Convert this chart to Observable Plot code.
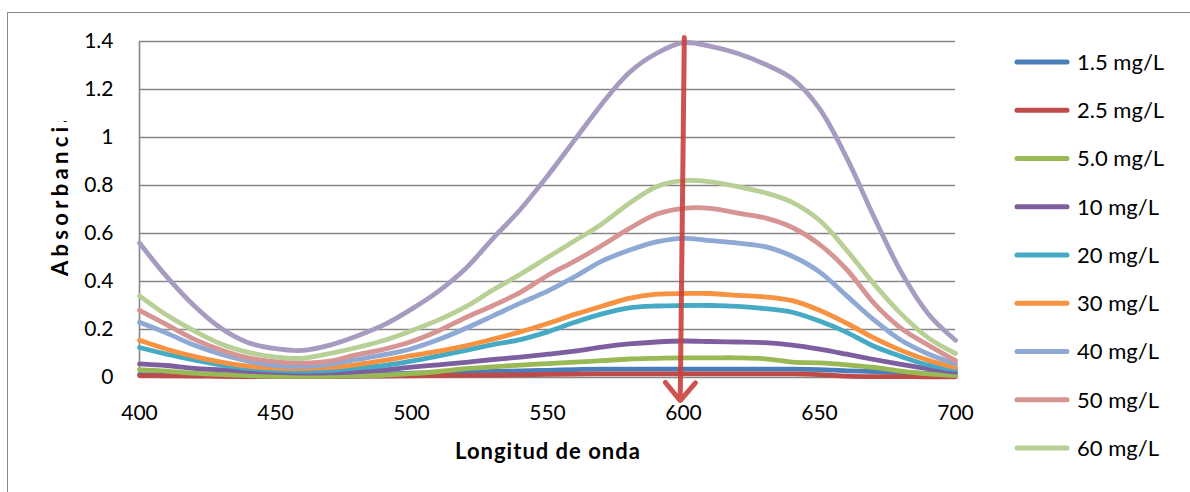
<!DOCTYPE html>
<html><head><meta charset="utf-8">
<script src="https://cdn.jsdelivr.net/npm/d3@7"></script>
<script src="https://cdn.jsdelivr.net/npm/@observablehq/plot@0.6"></script>
<style>
html,body{margin:0;padding:0;background:#fff;}
#wrap{position:relative;width:1190px;height:492px;overflow:hidden;font-family:Lato,sans-serif;}
#frame{position:absolute;left:7px;top:12px;width:1300px;height:600px;border:1.5px solid #8a8a8a;box-sizing:border-box;}
#chart{position:absolute;left:0;top:0;}
#legend{position:absolute;left:0;top:0;}
</style></head><body>
<div id="wrap"><div id="frame"></div><div id="chart"></div><svg id="legend" width="1190" height="492"></svg></div>
<script>
// ---- data ----
const wavelengths = [400,410,420,430,440,450,460,470,480,490,500,510,520,530,540,550,560,570,580,590,600,610,620,630,640,650,660,670,680,690,700];
const s1_5 = [0.012,0.012,0.01,0.01,0.008,0.008,0.008,0.01,0.012,0.015,0.018,0.02,0.022,0.025,0.028,0.03,0.033,0.035,0.035,0.035,0.035,0.035,0.035,0.035,0.035,0.033,0.028,0.025,0.02,0.017,0.015];
const s2_5 = [0.008,0.007,0.006,0.005,0.004,0.004,0.004,0.004,0.005,0.006,0.007,0.008,0.009,0.01,0.011,0.013,0.014,0.015,0.015,0.015,0.015,0.015,0.015,0.015,0.015,0.012,0.006,0.004,0.004,0.003,0.003];
const s5_0 = [0.033,0.027,0.018,0.013,0.008,0.005,0.005,0.005,0.007,0.01,0.016,0.025,0.037,0.044,0.052,0.058,0.064,0.07,0.077,0.08,0.082,0.082,0.082,0.078,0.064,0.061,0.053,0.042,0.027,0.015,0.008];
const s10 = [0.057,0.05,0.038,0.032,0.026,0.021,0.018,0.019,0.024,0.032,0.043,0.053,0.063,0.075,0.085,0.097,0.11,0.127,0.14,0.148,0.152,0.15,0.148,0.145,0.135,0.118,0.097,0.075,0.055,0.037,0.022];
const s20 = [0.125,0.097,0.073,0.052,0.038,0.03,0.027,0.03,0.04,0.05,0.068,0.09,0.113,0.137,0.158,0.19,0.23,0.265,0.29,0.298,0.3,0.3,0.296,0.287,0.272,0.235,0.188,0.13,0.088,0.052,0.033];
const s30 = [0.155,0.118,0.088,0.064,0.047,0.039,0.037,0.042,0.054,0.071,0.091,0.11,0.132,0.16,0.19,0.225,0.263,0.297,0.33,0.347,0.35,0.35,0.342,0.336,0.32,0.28,0.226,0.165,0.113,0.072,0.042];
const s40 = [0.23,0.185,0.135,0.097,0.068,0.05,0.046,0.056,0.075,0.095,0.12,0.158,0.205,0.257,0.31,0.36,0.42,0.485,0.53,0.565,0.58,0.57,0.56,0.545,0.505,0.44,0.34,0.24,0.155,0.098,0.057];
const s50 = [0.28,0.22,0.16,0.115,0.082,0.066,0.06,0.068,0.095,0.118,0.15,0.195,0.25,0.30,0.355,0.425,0.485,0.55,0.62,0.68,0.705,0.705,0.685,0.665,0.625,0.555,0.45,0.31,0.205,0.135,0.07];
const s60 = [0.34,0.26,0.195,0.14,0.105,0.085,0.08,0.10,0.125,0.155,0.195,0.24,0.295,0.365,0.43,0.50,0.57,0.64,0.725,0.795,0.82,0.815,0.795,0.77,0.73,0.655,0.53,0.39,0.265,0.165,0.10];
const s100 = [0.56,0.42,0.30,0.205,0.145,0.12,0.113,0.135,0.173,0.22,0.285,0.36,0.455,0.58,0.70,0.84,0.99,1.14,1.27,1.35,1.395,1.38,1.35,1.305,1.245,1.12,0.915,0.67,0.44,0.265,0.155];

const seriesNames = ["1.5 mg/L","2.5 mg/L","5.0 mg/L","10 mg/L","20 mg/L","30 mg/L","40 mg/L","50 mg/L","60 mg/L","100 mg/L"];
const seriesValues = [s1_5,s2_5,s5_0,s10,s20,s30,s40,s50,s60,s100];
const seriesColors = ["#4A7EBB","#BE4B48","#98B954","#7D5FA0","#46AAC5","#F69240","#8EA9D3","#D69593","#B8D095","#A89BC1"];
const legendNames = seriesNames.slice(0,9); // last entry is cropped out of the picture
const xTicks = [400,450,500,550,600,650,700];
const yTicks = [0,0.2,0.4,0.6,0.8,1,1.2,1.4];
const yTickLabels = ["0","0.2","0.4","0.6","0.8","1","1.2","1.4"];
// annotation arrow at 600 nm
const arrowX = [600.3, 598.8];
const arrowY = [1.417, -0.096];

// ---- build ----
const lineMarks = seriesNames.map((name,i) =>
  Plot.line(wavelengths.map((w,j)=>({wl:w, A:seriesValues[i][j], series:name})),
    {x:"wl", y:"A", stroke:seriesColors[i], strokeWidth:4.8, curve:"catmull-rom", strokeLinejoin:"round"}));

const plot = Plot.plot({
  width:1190, height:492,
  marginLeft:139, marginRight:235, marginTop:41, marginBottom:115,
  style:{background:"transparent", fontFamily:"Lato, sans-serif", fontSize:"21px", color:"#000", overflow:"visible"},
  x:{domain:[400,700], label:null},
  y:{domain:[0,1.4], label:null},
  marks:[
    Plot.gridY(yTicks,{stroke:"#868686", strokeOpacity:1, strokeWidth:1.6}),
    Plot.ruleX([400],{stroke:"#868686", strokeWidth:1.6}),
    ...lineMarks,
    Plot.arrow([0],{x1:()=>arrowX[0], y1:()=>arrowY[0], x2:()=>arrowX[1], y2:()=>arrowY[1],
      stroke:"#C9403C", strokeWidth:5, headLength:7, headAngle:80, strokeOpacity:0.9}),
    Plot.axisX(xTicks,{tickSize:0, tickPadding:28, tickFormat:d=>String(d), fill:"#000", fontSize:21}),
    Plot.axisY(yTicks,{tickSize:0, tickPadding:26, tickFormat:d=>yTickLabels[yTicks.indexOf(d)], fill:"#000", fontSize:21})
  ]
});
document.getElementById("chart").appendChild(plot);

const svg = d3.select(plot);
svg.append("defs").append("clipPath").attr("id","yclip")
  .append("rect").attr("x",0).attr("y",121).attr("width",130).attr("height",220);
svg.append("g").attr("clip-path","url(#yclip)")
  .append("text")
  .attr("transform","translate(68,276) rotate(-90)")
  .attr("text-anchor","start")
  .attr("font-family","Lato, sans-serif").attr("font-weight","bold").attr("font-size",22)
  .attr("letter-spacing","4.3px")
  .attr("fill","#000")
  .text("Absorbancia");
svg.append("text")
  .attr("x",548).attr("y",459)
  .attr("text-anchor","middle")
  .attr("font-family","Lato, sans-serif").attr("font-weight","bold").attr("font-size",22)
  .attr("letter-spacing","1px")
  .attr("fill","#000")
  .text("Longitud de onda");

// legend
const leg = d3.select("#legend");
legendNames.forEach((name,i)=>{
  const cy = 62 + i*48.25;
  leg.append("line").attr("x1",1017).attr("x2",1067).attr("y1",cy).attr("y2",cy)
    .attr("stroke",seriesColors[i]).attr("stroke-width",5).attr("stroke-linecap","round");
  leg.append("text").attr("x",1077).attr("y",cy).attr("dy","0.36em")
    .attr("font-family","Lato, sans-serif").attr("font-size",22).attr("fill","#000")
    .text(name);
});
</script></body></html>
